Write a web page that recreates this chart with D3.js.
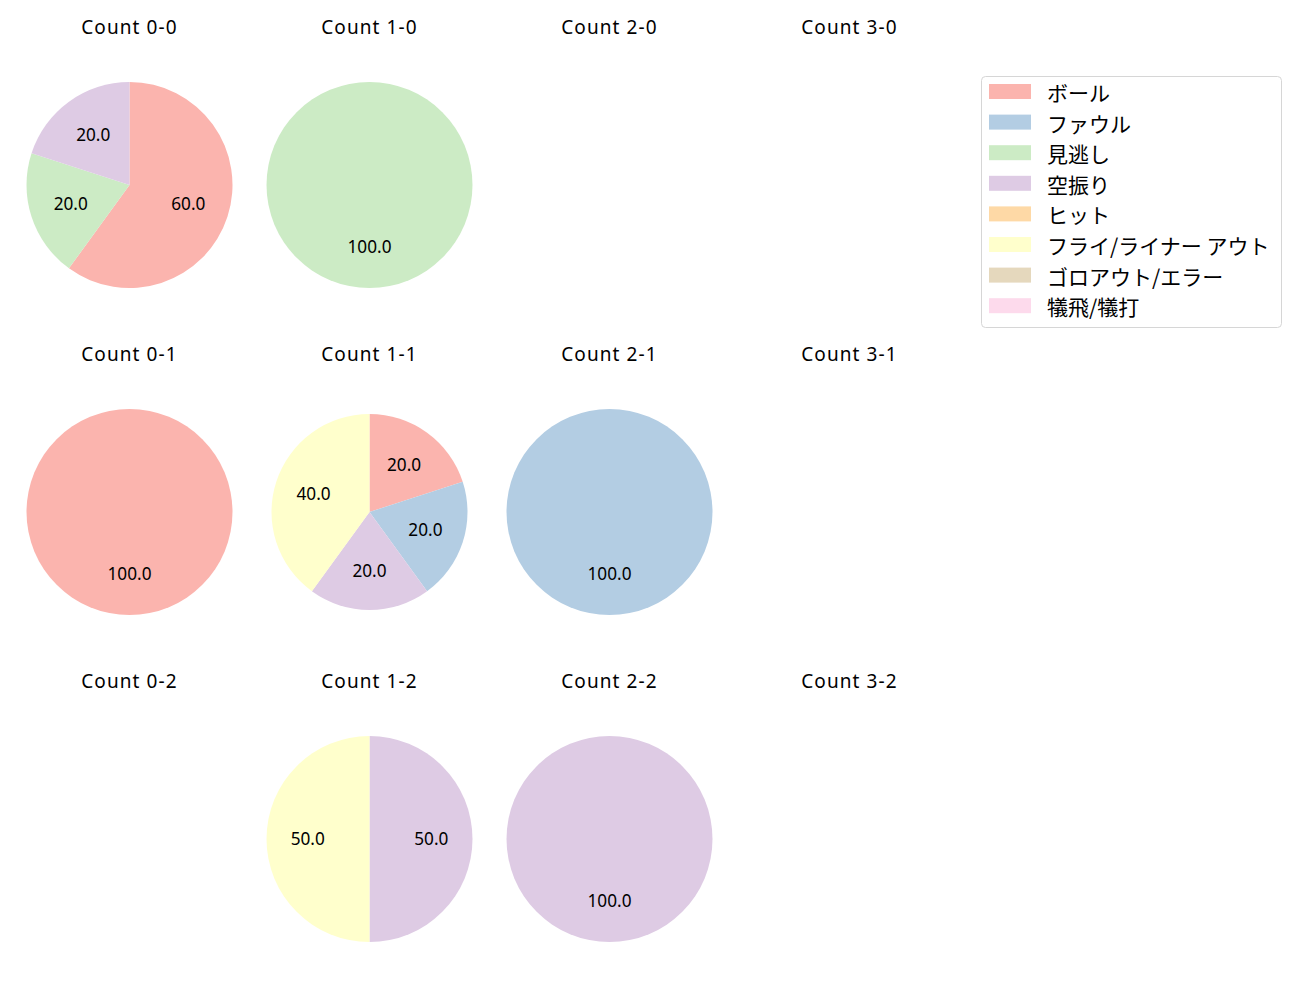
<!DOCTYPE html>
<html>
<head>
<meta charset="utf-8">
<script src="https://cdn.jsdelivr.net/npm/d3@7"></script>
<style>
  body { margin: 0; background: #fff; }
  svg text { font-family: "Noto Sans", "Noto Sans CJK JP", sans-serif; fill: #000; }
  svg .legend text { font-family: "Noto Sans CJK JP", sans-serif; }
</style>
</head>
<body>
<div id="chart"></div>
<script>
const width = 1300;
const height = 1000;

// categories (legend order) and Pastel1 colours
const categories = ["ボール", "ファウル", "見逃し", "空振り", "ヒット", "フライ/ライナー アウト", "ゴロアウト/エラー", "犠飛/犠打"];
const colors = ["#fbb4ae", "#b3cde3", "#ccebc5", "#decbe4", "#fed9a6", "#ffffcc", "#e5d8bd", "#fddaec"];

// counts: balls 0-3 x strikes 0-2
const balls = [0, 1, 2, 3];
const strikes = [0, 1, 2];

// percentage share per category, per count (empty = no pitches)
const count00 = [60, 0, 20, 20, 0, 0, 0, 0];
const count10 = [0, 0, 100, 0, 0, 0, 0, 0];
const count20 = [];
const count30 = [];
const count01 = [100, 0, 0, 0, 0, 0, 0, 0];
const count11 = [20, 20, 0, 20, 0, 40, 0, 0];
const count21 = [0, 100, 0, 0, 0, 0, 0, 0];
const count31 = [];
const count02 = [];
const count12 = [0, 0, 0, 50, 0, 50, 0, 0];
const count22 = [0, 0, 0, 100, 0, 0, 0, 0];
const count32 = [];

const counts = [
  [count00, count10, count20, count30],
  [count01, count11, count21, count31],
  [count02, count12, count22, count32]
];

const svg = d3.select("#chart").append("svg")
  .attr("width", width)
  .attr("height", height);

const colX = d3.scalePoint().domain(balls).range([129.5, 849.5]);
const rowY = d3.scalePoint().domain(strikes).range([185, 839]);
const titleY = d3.scalePoint().domain(strikes).range([34.3, 688.3]);

const pie = d3.pie().sort(null).startAngle(0).endAngle(2 * Math.PI).value(d => d.v);

strikes.forEach(s => {
  balls.forEach(b => {
    const vals = counts[s][b];
    const cx = colX(b), cy = rowY(s);
    svg.append("text")
      .attr("x", cx).attr("y", titleY(s))
      .attr("text-anchor", "middle")
      .style("font-size", "19px")
      .style("letter-spacing", "1.1px")
      .text(`Count ${b}-${s}`);
    if (!vals.length) return;
    const data = vals.map((v, i) => ({ v, i })).filter(d => d.v > 0);
    // count 1-1 pie is drawn a little smaller in the source
    const r = (b === 1 && s === 1) ? 98 : 103;
    const arc = d3.arc().innerRadius(0).outerRadius(r);
    const g = svg.append("g").attr("transform", `translate(${cx},${cy})`);
    const arcs = pie(data);
    g.selectAll("path").data(arcs).join("path")
      .attr("d", arc)
      .attr("fill", d => colors[d.data.i]);
    g.selectAll("text").data(arcs).join("text")
      .attr("x", d => 0.6 * r * Math.sin((d.startAngle + d.endAngle) / 2))
      .attr("y", d => -0.6 * r * Math.cos((d.startAngle + d.endAngle) / 2))
      .attr("dy", "0.36em")
      .attr("text-anchor", "middle")
      .style("font-size", "17.2px")
      .text(d => d3.format(".1f")(d.data.v));
  });
});

// legend
const legend = svg.append("g").attr("class", "legend").attr("transform", "translate(981,76)");
legend.append("rect")
  .attr("x", 0.5).attr("y", 0.5)
  .attr("width", 300).attr("height", 251)
  .attr("rx", 4)
  .attr("fill", "#fff")
  .attr("stroke", "#d6d6d6");
const items = legend.selectAll("g.item").data(categories).join("g")
  .attr("class", "item")
  .attr("transform", (d, i) => `translate(0,${16 + i * 30.6})`);
items.append("rect")
  .attr("x", 8).attr("y", -8)
  .attr("width", 42).attr("height", 15)
  .attr("fill", (d, i) => colors[i]);
items.append("text")
  .attr("x", 66).attr("y", 0)
  .attr("dominant-baseline", "central")
  .style("font-size", "21px")
  .text(d => d);
</script>
</body>
</html>
